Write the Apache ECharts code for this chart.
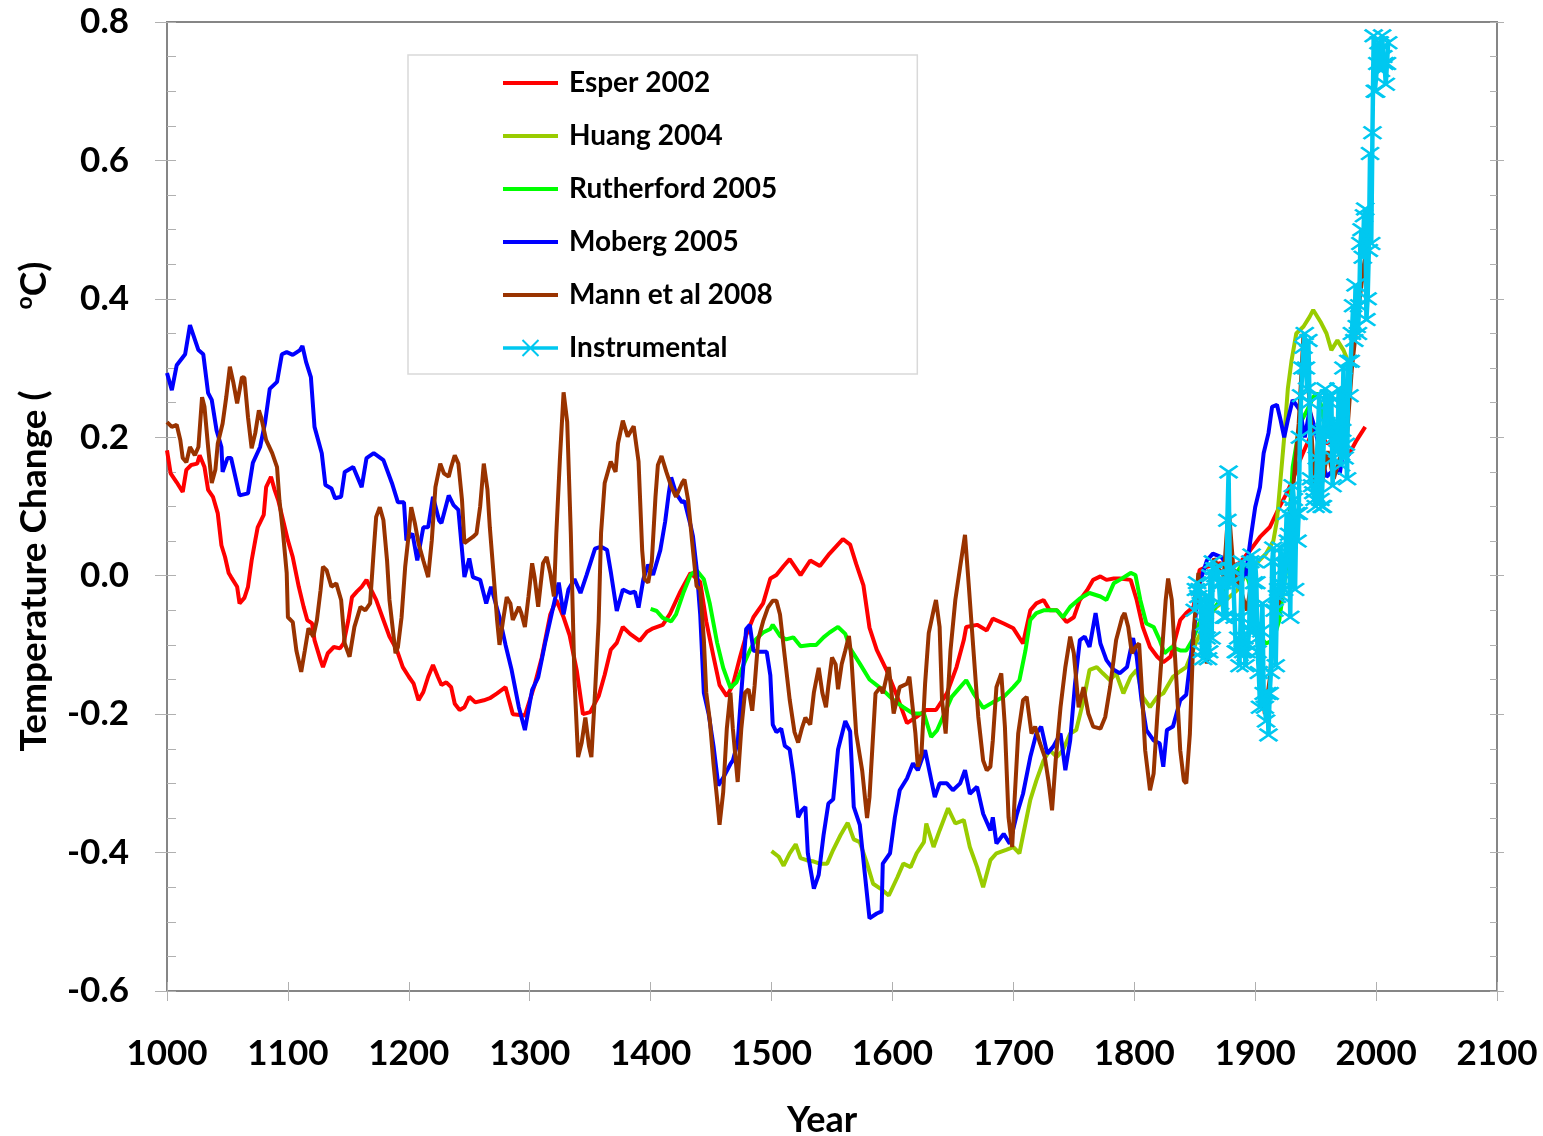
<!DOCTYPE html>
<html>
<head>
<meta charset="utf-8">
<title>Temperature change reconstructions</title>
<script src="https://cdn.jsdelivr.net/npm/echarts@6/dist/echarts.min.js"></script>
<style>
  html, body { margin: 0; padding: 0; background: #ffffff; }
  #chart { width: 1543px; height: 1136px; }
</style>
</head>
<body>
<div id="chart"></div>
<script>
// values (year, degC)
const esperYears = [1000,1003,1008,1013,1016,1020,1025,1027,1031,1034,1038,1042,1045,1048,1051,1053,1058,1060,1064,1067,1070,1073,1075,1080,1082,1086,1089,1092,1096,1100,1104,1109,1113,1116,1120,1122,1127,1129,1133,1138,1143,1146,1150,1153,1157,1161,1165,1169,1173,1179,1184,1190,1195,1200,1204,1208,1212,1216,1220,1224,1227,1231,1235,1238,1242,1246,1250,1255,1262,1267,1273,1280,1286,1296,1304,1310,1317,1322,1328,1333,1339,1344,1350,1357,1362,1367,1372,1377,1383,1391,1397,1402,1410,1416,1424,1433,1441,1446,1452,1457,1463,1468,1474,1479,1485,1493,1499,1504,1510,1515,1524,1532,1540,1548,1559,1565,1570,1576,1581,1587,1595,1604,1612,1620,1628,1636,1645,1653,1659,1661,1670,1678,1683,1692,1700,1708,1714,1719,1725,1730,1736,1744,1750,1755,1761,1766,1772,1777,1783,1788,1797,1802,1807,1813,1819,1824,1830,1838,1843,1849,1854,1860,1871,1879,1887,1896,1904,1912,1920,1926,1931,1937,1943,1948,1954,1959,1965,1973,1978,1984,1991];
const esperValues = [0.181,0.148,0.135,0.121,0.153,0.160,0.162,0.174,0.157,0.124,0.114,0.090,0.044,0.027,0.004,-0.002,-0.016,-0.040,-0.032,-0.016,0.022,0.051,0.070,0.088,0.128,0.143,0.124,0.109,0.080,0.051,0.027,-0.016,-0.045,-0.064,-0.069,-0.093,-0.122,-0.132,-0.112,-0.103,-0.105,-0.098,-0.064,-0.031,-0.023,-0.016,-0.006,-0.021,-0.035,-0.064,-0.088,-0.107,-0.132,-0.146,-0.156,-0.180,-0.168,-0.146,-0.129,-0.146,-0.158,-0.154,-0.161,-0.185,-0.194,-0.190,-0.175,-0.183,-0.180,-0.177,-0.170,-0.161,-0.200,-0.202,-0.158,-0.118,-0.056,-0.035,-0.060,-0.086,-0.138,-0.200,-0.197,-0.174,-0.143,-0.107,-0.097,-0.074,-0.084,-0.094,-0.081,-0.076,-0.071,-0.055,-0.025,0.004,-0.009,-0.066,-0.117,-0.158,-0.174,-0.158,-0.117,-0.086,-0.060,-0.040,-0.004,0.001,0.014,0.024,0.001,0.022,0.014,0.032,0.053,0.045,0.017,-0.014,-0.075,-0.107,-0.136,-0.175,-0.213,-0.204,-0.194,-0.194,-0.170,-0.132,-0.093,-0.074,-0.071,-0.079,-0.062,-0.069,-0.076,-0.098,-0.050,-0.040,-0.035,-0.050,-0.050,-0.067,-0.060,-0.035,-0.021,-0.006,-0.001,-0.006,-0.004,-0.004,-0.006,-0.035,-0.074,-0.103,-0.117,-0.125,-0.117,-0.064,-0.054,-0.045,0.008,0.013,0.018,0.013,0.018,0.037,0.056,0.070,0.099,0.119,0.138,0.167,0.191,0.210,0.206,0.191,0.196,0.186,0.177,0.196,0.215];

const huangYears = [1500,1506,1510,1515,1520,1524,1529,1535,1540,1546,1551,1557,1563,1568,1573,1579,1584,1590,1597,1604,1609,1615,1620,1626,1628,1634,1639,1646,1652,1659,1664,1670,1675,1681,1686,1694,1700,1705,1710,1714,1719,1725,1730,1736,1741,1747,1752,1758,1763,1769,1774,1780,1785,1791,1797,1802,1807,1813,1819,1824,1832,1838,1843,1852,1860,1868,1876,1885,1893,1901,1909,1915,1918,1921,1924,1927,1930,1934,1940,1945,1948,1954,1959,1963,1968,1973,1977];
const huangValues = [-0.398,-0.406,-0.419,-0.401,-0.388,-0.408,-0.411,-0.413,-0.416,-0.416,-0.396,-0.375,-0.357,-0.381,-0.385,-0.416,-0.445,-0.452,-0.462,-0.436,-0.416,-0.421,-0.401,-0.385,-0.358,-0.392,-0.368,-0.336,-0.358,-0.353,-0.392,-0.421,-0.450,-0.411,-0.401,-0.396,-0.392,-0.401,-0.358,-0.324,-0.296,-0.267,-0.252,-0.262,-0.252,-0.228,-0.223,-0.180,-0.136,-0.132,-0.141,-0.151,-0.141,-0.170,-0.146,-0.136,-0.175,-0.190,-0.175,-0.170,-0.146,-0.138,-0.132,-0.093,-0.064,-0.045,-0.035,-0.021,0.004,0.018,0.032,0.050,0.080,0.140,0.200,0.270,0.310,0.350,0.360,0.374,0.384,0.367,0.350,0.326,0.340,0.326,0.309];

const rutherfordYears = [1400,1405,1410,1417,1421,1427,1433,1438,1444,1449,1455,1460,1466,1471,1477,1482,1487,1493,1499,1501,1507,1512,1518,1524,1532,1537,1543,1548,1555,1561,1565,1573,1581,1592,1601,1609,1617,1626,1632,1637,1643,1649,1656,1661,1667,1675,1683,1692,1700,1705,1710,1714,1719,1725,1730,1736,1741,1747,1755,1763,1772,1777,1783,1788,1797,1801,1805,1810,1816,1821,1825,1831,1838,1843,1849,1857,1865,1873,1882,1890,1896,1899,1904,1909,1915,1920,1926,1931,1937,1943,1948,1951,1955,1957];
const rutherfordValues = [-0.048,-0.051,-0.061,-0.066,-0.056,-0.025,0.001,0.008,-0.005,-0.041,-0.097,-0.133,-0.162,-0.154,-0.128,-0.108,-0.092,-0.082,-0.077,-0.071,-0.087,-0.092,-0.089,-0.102,-0.100,-0.100,-0.089,-0.082,-0.074,-0.084,-0.105,-0.127,-0.150,-0.165,-0.180,-0.190,-0.199,-0.199,-0.233,-0.223,-0.199,-0.175,-0.161,-0.151,-0.170,-0.191,-0.183,-0.175,-0.161,-0.151,-0.108,-0.064,-0.054,-0.050,-0.050,-0.050,-0.060,-0.045,-0.033,-0.025,-0.030,-0.035,-0.011,-0.006,0.004,0.001,-0.035,-0.069,-0.074,-0.093,-0.112,-0.103,-0.108,-0.108,-0.090,-0.054,-0.050,-0.030,-0.002,0.018,-0.016,-0.060,-0.088,-0.098,-0.093,-0.064,0.013,0.157,0.220,0.239,0.258,0.264,0.244,0.220];

const mobergYears = [1000,1004,1008,1015,1019,1026,1030,1034,1037,1041,1045,1046,1050,1053,1060,1067,1071,1077,1081,1085,1091,1095,1099,1104,1110,1112,1115,1119,1122,1128,1131,1136,1139,1144,1147,1154,1161,1165,1171,1179,1186,1191,1196,1198,1203,1207,1212,1216,1220,1225,1227,1233,1237,1241,1246,1250,1253,1259,1264,1268,1275,1280,1285,1291,1296,1302,1307,1313,1318,1324,1328,1332,1337,1342,1347,1354,1359,1364,1367,1372,1377,1383,1387,1390,1394,1398,1402,1408,1412,1415,1417,1421,1426,1428,1433,1435,1438,1441,1444,1448,1452,1456,1460,1466,1468,1472,1475,1479,1482,1485,1490,1496,1499,1501,1504,1508,1511,1515,1518,1522,1525,1528,1530,1535,1539,1543,1547,1551,1555,1561,1565,1568,1573,1577,1581,1587,1591,1592,1598,1602,1606,1612,1617,1621,1627,1631,1635,1639,1645,1650,1656,1660,1664,1670,1675,1681,1683,1686,1692,1697,1703,1708,1714,1719,1723,1728,1733,1739,1743,1747,1751,1755,1759,1763,1768,1772,1777,1783,1788,1794,1799,1802,1806,1810,1816,1821,1824,1827,1832,1838,1843,1849,1854,1860,1865,1872,1878,1885,1892,1896,1900,1904,1907,1911,1914,1918,1921,1924,1927,1931,1937,1941,1945,1949,1954,1959,1965,1970,1973,1978];
const mobergValues = [0.293,0.268,0.304,0.320,0.362,0.326,0.320,0.264,0.254,0.210,0.186,0.150,0.170,0.170,0.116,0.119,0.163,0.186,0.220,0.270,0.280,0.320,0.323,0.319,0.326,0.332,0.309,0.287,0.215,0.177,0.131,0.126,0.112,0.114,0.150,0.157,0.128,0.170,0.177,0.167,0.134,0.106,0.106,0.051,0.061,0.022,0.070,0.070,0.114,0.080,0.076,0.116,0.102,0.095,-0.002,0.025,-0.002,-0.006,-0.040,-0.016,-0.060,-0.100,-0.136,-0.190,-0.223,-0.165,-0.147,-0.095,-0.056,-0.010,-0.056,-0.020,-0.005,-0.025,0.001,0.039,0.042,0.037,0.006,-0.051,-0.020,-0.025,-0.023,-0.046,-0.005,0.016,0.001,0.037,0.078,0.119,0.142,0.119,0.106,0.108,0.073,0.057,0.011,-0.056,-0.169,-0.200,-0.246,-0.303,-0.292,-0.272,-0.267,-0.241,-0.169,-0.077,-0.071,-0.108,-0.110,-0.110,-0.144,-0.215,-0.226,-0.221,-0.246,-0.251,-0.287,-0.349,-0.339,-0.334,-0.401,-0.452,-0.432,-0.375,-0.329,-0.323,-0.251,-0.210,-0.225,-0.334,-0.360,-0.428,-0.495,-0.488,-0.485,-0.416,-0.401,-0.349,-0.310,-0.293,-0.271,-0.281,-0.252,-0.286,-0.320,-0.300,-0.300,-0.310,-0.300,-0.281,-0.315,-0.305,-0.344,-0.368,-0.349,-0.387,-0.373,-0.387,-0.344,-0.315,-0.262,-0.228,-0.218,-0.257,-0.247,-0.228,-0.281,-0.238,-0.156,-0.093,-0.088,-0.103,-0.054,-0.098,-0.122,-0.136,-0.141,-0.132,-0.090,-0.117,-0.180,-0.223,-0.238,-0.242,-0.276,-0.223,-0.218,-0.180,-0.172,-0.083,-0.011,0.022,0.032,0.027,0.013,0.004,-0.001,0.051,0.099,0.128,0.177,0.206,0.244,0.247,0.225,0.200,0.225,0.254,0.239,0.200,0.239,0.215,0.177,0.143,0.153,0.148,0.181,0.172];

const mannYears = [1000,1004,1008,1011,1013,1016,1019,1023,1026,1029,1031,1034,1037,1040,1042,1046,1049,1052,1055,1058,1062,1064,1067,1070,1073,1076,1078,1082,1087,1091,1093,1096,1099,1100,1104,1107,1111,1114,1117,1121,1124,1127,1129,1132,1136,1140,1144,1147,1151,1155,1160,1164,1168,1171,1173,1176,1179,1182,1184,1189,1191,1194,1197,1200,1202,1205,1208,1212,1216,1219,1222,1226,1229,1233,1235,1238,1241,1244,1246,1249,1253,1256,1259,1262,1265,1267,1270,1273,1275,1278,1281,1284,1286,1291,1293,1296,1299,1302,1304,1307,1311,1314,1317,1320,1322,1325,1328,1331,1334,1337,1340,1343,1346,1349,1351,1354,1357,1359,1362,1367,1371,1373,1377,1381,1386,1390,1393,1395,1398,1401,1404,1406,1409,1413,1417,1421,1426,1428,1431,1435,1438,1441,1444,1446,1449,1452,1455,1457,1460,1463,1466,1468,1472,1475,1478,1481,1484,1486,1489,1493,1497,1501,1504,1507,1511,1515,1519,1522,1525,1528,1532,1535,1539,1542,1545,1547,1550,1553,1555,1558,1561,1564,1566,1570,1575,1579,1581,1586,1590,1592,1597,1601,1606,1612,1614,1619,1621,1624,1627,1630,1634,1636,1639,1641,1644,1648,1652,1656,1660,1663,1667,1671,1675,1678,1681,1683,1686,1690,1693,1696,1699,1701,1704,1708,1711,1715,1718,1722,1726,1729,1732,1735,1739,1743,1747,1750,1754,1758,1762,1766,1772,1776,1780,1785,1790,1792,1795,1798,1801,1804,1806,1809,1813,1816,1819,1823,1826,1828,1831,1835,1838,1841,1843,1846,1849,1853,1857,1860,1863,1866,1870,1874,1878,1882,1888,1893,1898,1903,1908,1912,1916,1921,1926,1931,1936,1940,1945,1950,1955,1960,1965,1970,1975,1980,1985,1990,1995];
const mannValues = [0.222,0.215,0.218,0.196,0.170,0.164,0.186,0.174,0.186,0.258,0.244,0.186,0.134,0.153,0.191,0.220,0.258,0.302,0.278,0.249,0.287,0.286,0.229,0.184,0.206,0.239,0.228,0.196,0.177,0.157,0.109,0.061,0.004,-0.060,-0.067,-0.108,-0.139,-0.108,-0.076,-0.088,-0.064,-0.021,0.013,0.008,-0.016,-0.011,-0.035,-0.098,-0.117,-0.074,-0.045,-0.050,-0.040,0.037,0.085,0.099,0.080,0.022,-0.035,-0.112,-0.103,-0.060,0.013,0.061,0.099,0.076,0.047,0.022,-0.002,0.051,0.128,0.162,0.148,0.143,0.157,0.174,0.162,0.109,0.047,0.051,0.056,0.061,0.100,0.162,0.125,0.070,0.004,-0.064,-0.100,-0.064,-0.031,-0.040,-0.064,-0.045,-0.054,-0.074,-0.030,0.018,-0.002,-0.045,0.018,0.027,0.004,-0.030,0.061,0.170,0.265,0.222,0.060,-0.150,-0.262,-0.241,-0.205,-0.246,-0.262,-0.169,-0.066,0.062,0.134,0.165,0.150,0.191,0.224,0.201,0.216,0.165,0.037,-0.005,-0.010,0.021,0.114,0.160,0.173,0.150,0.129,0.114,0.134,0.139,0.109,0.037,-0.015,-0.020,-0.092,-0.169,-0.210,-0.272,-0.323,-0.360,-0.313,-0.221,-0.169,-0.221,-0.298,-0.221,-0.169,-0.164,-0.195,-0.159,-0.092,-0.066,-0.046,-0.036,-0.036,-0.056,-0.118,-0.179,-0.226,-0.241,-0.221,-0.205,-0.215,-0.169,-0.133,-0.169,-0.190,-0.159,-0.118,-0.128,-0.164,-0.128,-0.108,-0.087,-0.118,-0.228,-0.282,-0.350,-0.320,-0.170,-0.161,-0.170,-0.132,-0.199,-0.161,-0.156,-0.146,-0.228,-0.276,-0.257,-0.156,-0.083,-0.050,-0.035,-0.074,-0.180,-0.228,-0.108,-0.035,0.013,0.059,-0.011,-0.108,-0.204,-0.267,-0.281,-0.276,-0.238,-0.161,-0.141,-0.218,-0.349,-0.392,-0.324,-0.228,-0.180,-0.175,-0.228,-0.218,-0.242,-0.262,-0.296,-0.339,-0.267,-0.190,-0.132,-0.088,-0.112,-0.190,-0.161,-0.199,-0.218,-0.221,-0.204,-0.161,-0.093,-0.060,-0.054,-0.074,-0.112,-0.103,-0.098,-0.156,-0.252,-0.310,-0.286,-0.204,-0.108,-0.035,-0.004,-0.035,-0.156,-0.252,-0.296,-0.300,-0.228,-0.083,0.004,-0.083,-0.127,-0.035,0.025,0.010,-0.001,0.100,0.010,-0.020,-0.050,0.000,-0.120,-0.200,-0.150,-0.060,-0.030,0.040,0.120,0.220,0.350,0.250,0.110,0.130,0.180,0.140,0.170,0.180,0.300,0.380,0.450,0.500];

// instrumental record: one value per year from 1850
const instStartYear = 1850;
const instValues = [-0.05,-0.02,-0.01,-0.03,-0.02,-0.04,-0.11,-0.12,-0.07,-0.03,-0.09,-0.12,-0.11,0.00,-0.09,0.02,0.01,0.00,0.01,0.00,-0.01,-0.04,-0.01,-0.01,-0.06,-0.06,-0.06,0.08,0.15,0.01,-0.01,0.01,-0.01,-0.06,-0.11,-0.11,-0.09,-0.13,-0.06,0.02,-0.11,-0.09,-0.13,-0.11,-0.10,-0.08,0.02,0.03,-0.08,-0.01,0.02,-0.01,-0.11,-0.14,-0.19,-0.08,-0.04,-0.17,-0.19,-0.21,-0.17,-0.23,-0.17,-0.14,0.02,0.04,-0.05,-0.13,-0.03,-0.02,-0.01,0.04,-0.03,0.01,-0.02,0.03,0.09,0.05,0.06,-0.06,0.10,0.13,0.11,-0.02,0.09,0.05,0.09,0.20,0.26,0.30,0.33,0.35,0.30,0.27,0.34,0.25,0.14,0.13,0.12,0.11,0.10,0.17,0.21,0.26,0.11,0.10,0.10,0.21,0.27,0.22,0.20,0.26,0.25,0.26,0.13,0.17,0.20,0.22,0.18,0.27,0.22,0.16,0.21,0.30,0.17,0.19,0.14,0.31,0.26,0.31,0.35,0.39,0.34,0.42,0.36,0.35,0.39,0.48,0.50,0.46,0.52,0.53,0.37,0.40,0.47,0.61,0.48,0.64,0.78,0.70,0.70,0.74,0.77,0.77,0.73,0.78,0.75,0.74,0.71,0.74,0.77];

const seriesNames = ['Esper 2002', 'Huang 2004', 'Rutherford 2005', 'Moberg 2005', 'Mann et al 2008', 'Instrumental'];
const seriesColors = ['#ff0000', '#99cc00', '#00ff00', '#0000ff', '#993300', '#00c8f0'];

const yMin = -0.6, yMax = 0.8, yStep = 0.2, yMinorStep = 0.05;
const xMin = 1000, xMax = 2100, xStep = 100;

const FONT = 'Lato, "Open Sans", sans-serif';
const AXIS_GREY = '#868686';
const TICK_GREY = '#b0b0b0';

function pairs(xs, ys) {
  return xs.map((x, i) => [x, ys[i]]);
}

const instYears = instValues.map((v, i) => instStartYear + i);

// cross shaped marker used by the instrumental series
const crossPath = 'path://M0,1.1L1.1,0L5,3.9L8.9,0L10,1.1L6.1,5L10,8.9L8.9,10L5,6.1L1.1,10L0,8.9L3.9,5Z';
// legend icons: plain thick line, and line with a cross for the instrumental series
const lineIcon = 'path://M0,0L55,0L55,4L0,4Z';
const crossLineIcon = 'path://M0,7.3L55,7.3L55,10.7L0,10.7Z' +
  'M18.8,1.7L20.2,0.3L36.2,16.3L34.8,17.7Z' +
  'M34.8,0.3L36.2,1.7L20.2,17.7L18.8,16.3Z';

function recon(idx, years, values) {
  return {
    name: seriesNames[idx],
    type: 'line',
    data: pairs(years, values),
    symbol: 'none',
    showSymbol: false,
    lineStyle: { color: seriesColors[idx], width: 4 },
    itemStyle: { color: seriesColors[idx] },
    emphasis: { disabled: true },
    z: 2 + idx
  };
}

var chart = echarts.init(document.getElementById('chart'), null, { renderer: 'canvas' });

const bigLabel = { fontFamily: FONT, fontSize: 35, fontWeight: 'bold', color: '#000' };

var option = {
  animation: false,
  backgroundColor: '#ffffff',
  grid: {
    left: 167, right: 46, top: 22, bottom: 145,
    show: true, borderColor: AXIS_GREY, borderWidth: 2,
    containLabel: false, outerBoundsMode: 'none'
  },
  legend: {
    orient: 'vertical',
    left: 408, top: 55,
    padding: [13, 140, 11, 95],
    itemWidth: 55, itemHeight: 18, itemGap: 23,
    borderColor: '#d9d9d9', borderWidth: 1.5,
    backgroundColor: '#ffffff',
    selectedMode: false,
    textStyle: {
      fontFamily: FONT, fontSize: 28, fontWeight: 'bold', color: '#000',
      lineHeight: 30, padding: [0, 0, 0, 6]
    },
    data: seriesNames.map((n, i) => ({ name: n, icon: i === 5 ? crossLineIcon : lineIcon }))
  },
  xAxis: [
    {
      type: 'value', min: xMin, max: xMax, interval: xStep, position: 'bottom',
      axisLine: { show: true, onZero: false, lineStyle: { color: AXIS_GREY, width: 2 } },
      axisTick: { show: true, length: 10, lineStyle: { color: TICK_GREY, width: 1 } },
      axisLabel: Object.assign({ margin: 45, formatter: v => String(v) }, bigLabel),
      splitLine: { show: false },
      name: 'Year', nameLocation: 'middle', nameGap: 111,
      nameTextStyle: Object.assign({}, bigLabel, { fontSize: 36, padding: [0, 20, 0, 0] })
    },
    {
      type: 'value', min: xMin, max: xMax, interval: xStep, position: 'bottom',
      axisLine: { show: false, onZero: false },
      axisTick: { show: true, inside: true, length: 9, lineStyle: { color: TICK_GREY, width: 1 } },
      axisLabel: { show: false },
      splitLine: { show: false }
    }
  ],
  yAxis: [
    {
      type: 'value', min: yMin, max: yMax, interval: yStep, position: 'left',
      axisLine: { show: true, onZero: false, lineStyle: { color: AXIS_GREY, width: 2 } },
      axisTick: { show: true, length: 12, lineStyle: { color: TICK_GREY, width: 1 } },
      axisLabel: Object.assign({ margin: 38, formatter: v => v.toFixed(1) }, bigLabel),
      splitLine: { show: false },
      name: 'Temperature Change (\u00a0\u00a0\u00a0\u00a0\u00a0\u00a0\u00a0\u00a0\u00a0{sup|o}C)',
      nameLocation: 'middle', nameGap: 112, nameRotate: 90,
      nameTextStyle: Object.assign({}, bigLabel, {
        fontSize: 37, lineHeight: 42,
        rich: {
          sup: { fontFamily: FONT, fontSize: 23, fontWeight: 'bold', color: '#000', verticalAlign: 'top', lineHeight: 42 }
        }
      })
    },
    {
      type: 'value', min: yMin, max: yMax, interval: yMinorStep, position: 'left',
      axisLine: { show: false, onZero: false },
      axisTick: { show: true, inside: true, length: 9, lineStyle: { color: TICK_GREY, width: 1 } },
      axisLabel: { show: false },
      splitLine: { show: false }
    },
    {
      type: 'value', min: yMin, max: yMax, interval: yMinorStep, position: 'right',
      axisLine: { show: true, onZero: false, lineStyle: { color: AXIS_GREY, width: 2 } },
      axisTick: { show: true, inside: true, length: 7, lineStyle: { color: TICK_GREY, width: 1 } },
      axisLabel: { show: false },
      splitLine: { show: false }
    },
    {
      type: 'value', min: yMin, max: yMax, interval: yStep, position: 'right',
      axisLine: { show: false, onZero: false },
      axisTick: { show: true, length: 7, lineStyle: { color: TICK_GREY, width: 1 } },
      axisLabel: { show: false },
      splitLine: { show: false }
    }
  ],
  series: [
    recon(0, esperYears, esperValues),
    recon(1, huangYears, huangValues),
    recon(2, rutherfordYears, rutherfordValues),
    recon(3, mobergYears, mobergValues),
    recon(4, mannYears, mannValues),
    {
      name: seriesNames[5],
      type: 'line',
      data: pairs(instYears, instValues),
      symbol: crossPath,
      symbolSize: [20, 14],
      showSymbol: true,
      showAllSymbol: true,
      lineStyle: { color: seriesColors[5], width: 4.5 },
      itemStyle: { color: seriesColors[5] },
      emphasis: { disabled: true },
      z: 10
    }
  ]
};

chart.setOption(option);
</script>
</body>
</html>
